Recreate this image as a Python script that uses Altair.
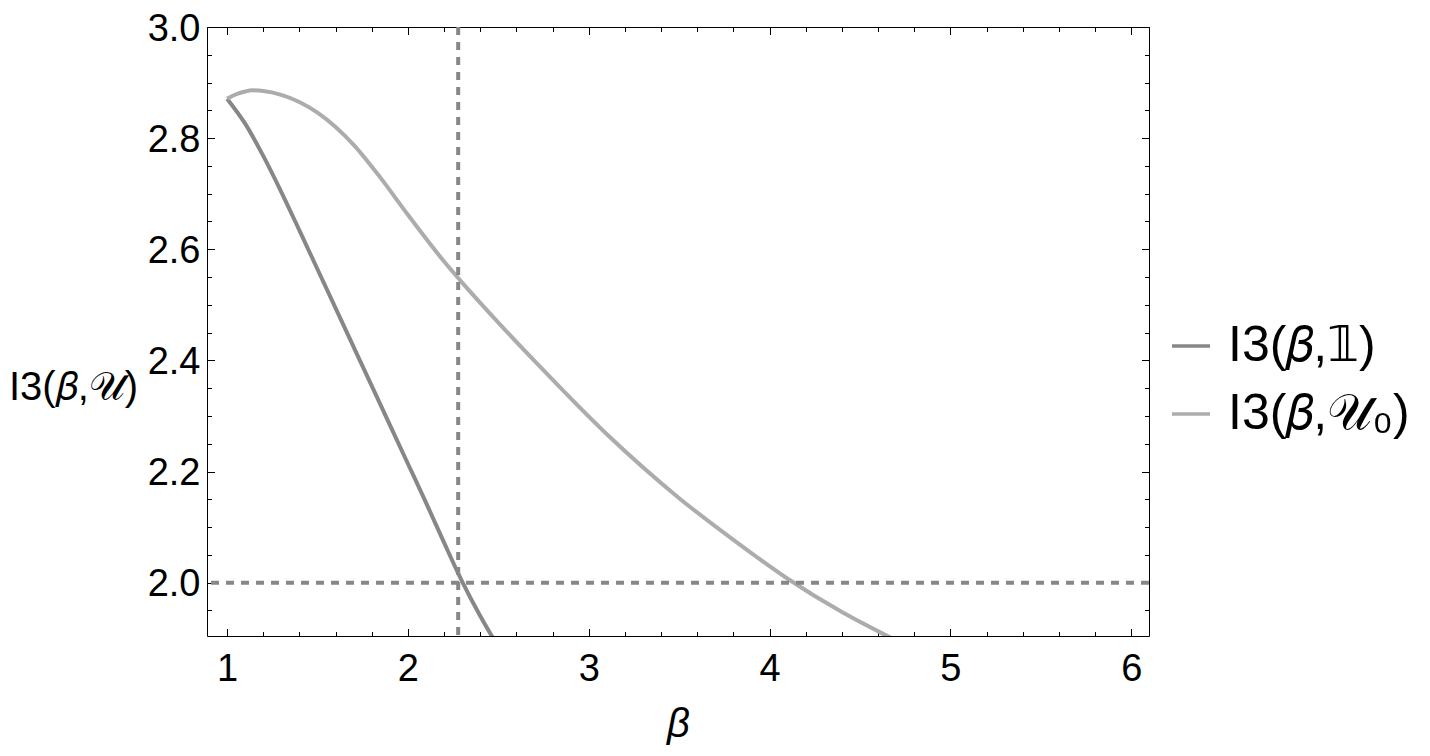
import altair as alt
import pandas as pd

# ---- data ----
dark_x = [1.0, 1.1, 1.2, 1.3, 1.4, 1.5, 1.6, 1.7, 1.8, 1.9, 2.0, 2.1, 2.2, 2.3,
          2.4, 2.48]
dark_y = [2.871, 2.826, 2.768, 2.703, 2.634, 2.564, 2.494, 2.424, 2.354, 2.284,
          2.214, 2.144, 2.072, 2.002, 1.940, 1.895]

light_x = [1.0, 1.05, 1.1, 1.14, 1.2, 1.3, 1.5, 1.7, 1.85, 2.0, 2.2, 2.3, 2.5,
           2.7, 3.1, 3.5, 3.8, 4.1, 4.4, 4.7]
light_y = [2.871, 2.879, 2.884, 2.886, 2.885, 2.878, 2.846, 2.788, 2.728, 2.662,
           2.578, 2.540, 2.468, 2.399, 2.267, 2.152, 2.077, 2.007, 1.947, 1.896]

series_names = ["I3(\U0001D6FD,\U0001D7D9)", "I3(\U0001D6FD,\U0001D4B0\u2080)"]
series_colors = ["#878787", "#acacac"]

v_line = [2.278]
h_line = [2.0]

x_major = [1, 2, 3, 4, 5, 6]
x_minor = [1.0, 1.2, 1.4, 1.6, 1.8, 2.0, 2.2, 2.4, 2.6, 2.8, 3.0, 3.2, 3.4, 3.6,
           3.8, 4.0, 4.2, 4.4, 4.6, 4.8, 5.0, 5.2, 5.4, 5.6, 5.8, 6.0]
y_major = [2.0, 2.2, 2.4, 2.6, 2.8, 3.0]
y_minor = [1.95, 2.0, 2.05, 2.1, 2.15, 2.2, 2.25, 2.3, 2.35, 2.4, 2.45, 2.5, 2.55,
           2.6, 2.65, 2.7, 2.75, 2.8, 2.85, 2.9, 2.95, 3.0]

x_domain = [0.889, 6.098]
y_domain = [1.904, 3.0]

FONT = "Liberation Sans, DejaVu Sans"

rows = []
for xv, yv in zip(dark_x, dark_y):
    rows.append({"x": xv, "y": yv, "series": series_names[0]})
for xv, yv in zip(light_x, light_y):
    rows.append({"x": xv, "y": yv, "series": series_names[1]})
df = pd.DataFrame(rows)

xs = alt.Scale(domain=x_domain, nice=False, zero=False)
ys = alt.Scale(domain=y_domain, nice=False, zero=False)

MAJ = 7.5
MIN = 4.5


def axis(orient, values, size, labels=False, **kw):
    return alt.Axis(orient=orient, values=values, tickSize=size, offset=-size,
                    domain=False, grid=False, labels=labels, tickColor="black",
                    tickWidth=1, **kw)


ax_bottom = axis("bottom", x_major, MAJ, labels=True, labelFontSize=38,
                 labelFont=FONT, labelColor="black", labelPadding=14,
                 labelFlush=False, labelOverlap=False, format="d",
                 title="\u03b2", titleFont=FONT, titleFontSize=40,
                 titleFontStyle="italic", titleFontWeight="normal",
                 titleColor="black", titleBaseline="alphabetic",
                 titleY=108, titleX=471)
ax_left = axis("left", y_major, MAJ, labels=True, labelFontSize=38,
               labelFont=FONT, labelColor="black", labelPadding=7,
               labelFlush=False, labelOverlap=False, format=".1f",
               labelOffset=2,
               title="I3(\U0001D6FD,\U0001D4B0)", titleFont=FONT,
               titleFontSize=40, titleFontWeight="normal", titleColor="black",
               titleAngle=0, titleAlign="left", titleBaseline="alphabetic",
               titleX=-206, titleY=372)

lines = alt.Chart(df).mark_line(strokeWidth=4, interpolate="monotone",
                                clip=True).encode(
    x=alt.X("x:Q", scale=xs, axis=ax_bottom),
    y=alt.Y("y:Q", scale=ys, axis=ax_left),
    color=alt.Color("series:N",
                    scale=alt.Scale(domain=series_names, range=series_colors),
                    legend=alt.Legend(orient="none", legendX=959, legendY=294,
                                      title=None, symbolType="stroke",
                                      symbolSize=1444, symbolStrokeWidth=3.5,
                                      labelFontSize=50, labelFont=FONT,
                                      labelColor="black", labelOffset=12,
                                      labelLimit=400, rowPadding=18, padding=0)),
)

vrule = alt.Chart(pd.DataFrame({"x": v_line})).mark_rule(
    strokeDash=[8, 7], strokeWidth=4, color="#878787").encode(
    x=alt.X("x:Q", scale=xs, axis=axis("bottom", x_minor, MIN, title=None)))

hrule = alt.Chart(pd.DataFrame({"y": h_line})).mark_rule(
    strokeDash=[8, 7], strokeWidth=4, color="#878787").encode(
    y=alt.Y("y:Q", scale=ys, axis=axis("left", y_minor, MIN, title=None)))

top_right_major = alt.Chart(df).mark_line(opacity=0).encode(
    x=alt.X("x:Q", scale=xs, axis=axis("top", x_major, MAJ, title=None)),
    y=alt.Y("y:Q", scale=ys, axis=axis("right", y_major, MAJ, title=None)),
)
top_right_minor = alt.Chart(df).mark_line(opacity=0).encode(
    x=alt.X("x:Q", scale=xs, axis=axis("top", x_minor, MIN, title=None)),
    y=alt.Y("y:Q", scale=ys, axis=axis("right", y_minor, MIN, title=None)),
)

chart = alt.layer(lines, vrule, hrule, top_right_major, top_right_minor).resolve_axis(
    x="independent", y="independent"
).properties(
    width=942, height=609,
    padding={"left": 199, "top": 19, "right": 273, "bottom": 110},
    autosize=alt.AutoSizeParams(type="none"),
).configure(background="white").configure_view(stroke="black", strokeWidth=1)

chart.save("out.html", embed_options={"renderer": "svg", "actions": False})
